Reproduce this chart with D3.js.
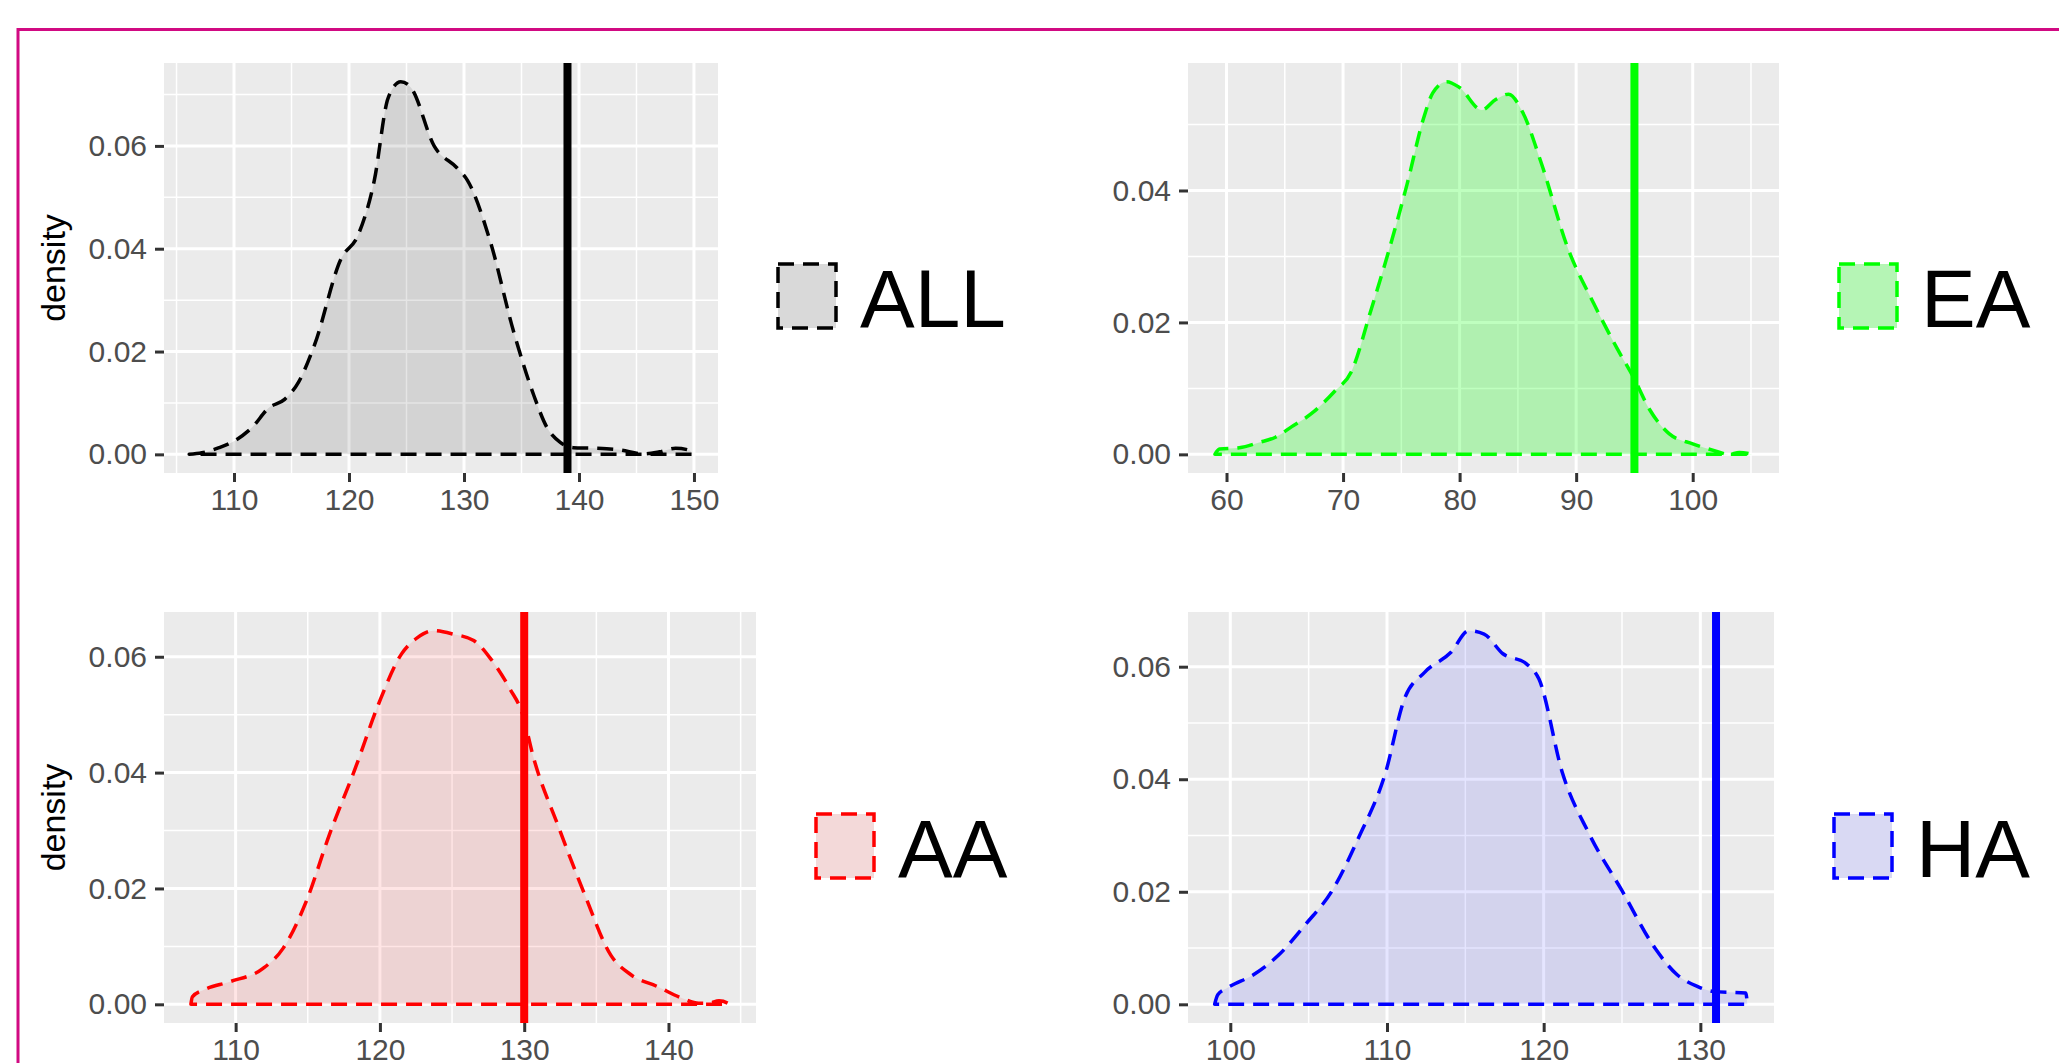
<!DOCTYPE html>
<html>
<head>
<meta charset="utf-8">
<script src="https://cdn.jsdelivr.net/npm/d3@7"></script>
<style>
  body { margin: 0; background: #fff; overflow: hidden; }
  svg { display: block; font-family: "Liberation Sans", Arial, sans-serif; }
</style>
</head>
<body>
<svg id="chart" width="2059" height="1063"></svg>
<script>
// groups, colours and the observed score marked with the vertical line
const groups = ['ALL', 'EA', 'AA', 'HA'];
const lineColors = ['#000000', '#00ff00', '#ff0000', '#0000ff'];
const fillAlpha = [0.1, 0.25, 0.1, 0.1];
const observed = [139, 95, 130, 131];

// density curves
const allScores = [106.1, 107.2, 108.7, 110.1, 111.6, 113.0, 114.4, 115.6, 117.0, 119.3, 120.8, 122.2, 123.4, 124.5, 125.4, 127.4, 129.4, 130.3, 132.3, 134.3, 136.1, 137.2, 138.4, 139.5, 141.2, 143.5, 145.6, 147.0, 148.4, 149.6, 149.9];
const allDensity = [0, 0.0003, 0.0013, 0.0027, 0.0053, 0.009, 0.0107, 0.014, 0.0213, 0.038, 0.0427, 0.0533, 0.0693, 0.0725, 0.0713, 0.06, 0.0557, 0.0533, 0.0413, 0.024, 0.0113, 0.0053, 0.0023, 0.0013, 0.0012, 0.0009, 0.0001, 0.0005, 0.0012, 0.0008, 0];

const eaScores = [59.0, 59.4, 61.1, 62.8, 64.2, 65.6, 67.3, 69.3, 70.7, 72.4, 73.8, 75.5, 76.9, 77.7, 78.9, 80.0, 81.9, 83.1, 84.2, 85.4, 87.0, 89.3, 91.5, 93.5, 95.0, 96.3, 98.0, 100.0, 102.0, 103.1, 104.0, 105.1];
const eaDensity = [0, 0.0008, 0.001, 0.0018, 0.0026, 0.0042, 0.0062, 0.0096, 0.0125, 0.0219, 0.0301, 0.041, 0.0509, 0.0548, 0.0565, 0.0556, 0.0522, 0.0538, 0.0546, 0.0519, 0.0442, 0.0312, 0.0229, 0.0161, 0.0114, 0.0068, 0.0031, 0.0016, 0.0005, 0, 0.0003, 0];

const aaScores = [106.9, 107.0, 107.8, 109.6, 111.9, 113.3, 114.9, 116.5, 118.3, 119.9, 121.5, 122.6, 123.7, 125.1, 126.5, 127.6, 129.0, 129.9, 130.6, 132.4, 134.2, 136.0, 137.4, 139.2, 141.0, 142.1, 142.8, 143.5, 144.1, 144.2];
const aaDensity = [0, 0.0013, 0.0025, 0.0039, 0.0062, 0.0097, 0.0178, 0.0293, 0.0408, 0.0518, 0.0605, 0.0633, 0.0645, 0.0639, 0.0628, 0.0599, 0.0545, 0.05, 0.043, 0.0305, 0.0189, 0.0085, 0.0051, 0.0031, 0.001, 0.0002, 0.0002, 0.0006, 0.0002, 0];

const haScores = [99.0, 99.2, 99.8, 101.5, 103.1, 104.8, 106.5, 108.2, 109.9, 111.1, 112.4, 114.1, 115.2, 116.2, 117.4, 118.9, 119.7, 121.2, 122.9, 125.0, 127.1, 128.5, 129.8, 130.8, 132.9, 133.0];
const haDensity = [0, 0.0017, 0.0029, 0.0053, 0.0088, 0.0142, 0.0202, 0.0297, 0.0411, 0.0542, 0.059, 0.0626, 0.0664, 0.0658, 0.0623, 0.0605, 0.0578, 0.0411, 0.0303, 0.0202, 0.01, 0.0053, 0.0032, 0.0023, 0.002, 0];

const scores = [allScores, eaScores, aaScores, haScores];
const densities = [allDensity, eaDensity, aaDensity, haDensity];

// axis breaks
const yBreaks = [0, 0.02, 0.04, 0.06];
const yFormat = d3.format('.2f');

// panel boxes (plot area of each small chart)
const panels = [
    { left: 164, right: 718, top: 63, bottom: 473, legendY: 296, title: true },
    { left: 1188, right: 1779, top: 63, bottom: 473, legendY: 296, title: false },
    { left: 164, right: 756, top: 612, bottom: 1023, legendY: 846, title: true },
    { left: 1188, right: 1774, top: 612, bottom: 1023, legendY: 846, title: false }
];

const svg = d3.select('#chart');

// magenta frame
svg.append('rect')
    .attr('x', 18).attr('y', 29.5)
    .attr('width', 2080).attr('height', 1100)
    .attr('fill', 'none')
    .attr('stroke', '#d10a82')
    .attr('stroke-width', 3);

// ggplot style expansion of 5% on each side
function expand(lo, hi) {
    const pad = (hi - lo) * 0.05;
    return [lo - pad, hi + pad];
}

groups.forEach(function(name, i) {
    const p = panels[i];
    const xs = scores[i];
    const ys = densities[i];
    const pts = xs.map((x, k) => [x, ys[k]]);

    const x = d3.scaleLinear()
        .domain(expand(d3.min(xs), d3.max(xs)))
        .range([p.left, p.right]);
    const y = d3.scaleLinear()
        .domain(expand(0, d3.max(ys)))
        .range([p.bottom, p.top]);

    const g = svg.append('g');

    // panel background
    g.append('rect')
        .attr('x', p.left).attr('y', p.top)
        .attr('width', p.right - p.left).attr('height', p.bottom - p.top)
        .attr('fill', '#ebebeb');

    const xd = x.domain(), yd = y.domain();
    const xMajor = d3.range(Math.ceil(xd[0] / 10) * 10, xd[1], 10);
    const xMinor = d3.range(Math.ceil((xd[0] - 5) / 10) * 10 + 5, xd[1], 10).filter(v => v > xd[0]);
    const yMajor = yBreaks.filter(v => v >= yd[0] && v <= yd[1]);
    const yMinor = d3.range(0.01, yd[1], 0.02);

    // minor grid
    g.selectAll('.xminor').data(xMinor).enter().append('line')
        .attr('x1', d => x(d)).attr('x2', d => x(d))
        .attr('y1', p.top).attr('y2', p.bottom)
        .attr('stroke', '#fff').attr('stroke-width', 1.5);
    g.selectAll('.yminor').data(yMinor).enter().append('line')
        .attr('x1', p.left).attr('x2', p.right)
        .attr('y1', d => y(d)).attr('y2', d => y(d))
        .attr('stroke', '#fff').attr('stroke-width', 1.5);

    // major grid
    g.selectAll('.xmajor').data(xMajor).enter().append('line')
        .attr('x1', d => x(d)).attr('x2', d => x(d))
        .attr('y1', p.top).attr('y2', p.bottom)
        .attr('stroke', '#fff').attr('stroke-width', 3);
    g.selectAll('.ymajor').data(yMajor).enter().append('line')
        .attr('x1', p.left).attr('x2', p.right)
        .attr('y1', d => y(d)).attr('y2', d => y(d))
        .attr('stroke', '#fff').attr('stroke-width', 3);

    // density area with dashed outline (baseline included)
    const area = d3.area()
        .x(d => x(d[0]))
        .y0(y(0))
        .y1(d => y(d[1]))
        .curve(d3.curveMonotoneX);

    g.append('path')
        .attr('d', area(pts))
        .attr('fill', lineColors[i])
        .attr('fill-opacity', fillAlpha[i])
        .attr('stroke', lineColors[i])
        .attr('stroke-width', 3.5)
        .attr('stroke-dasharray', '16 9')
        .attr('stroke-linejoin', 'round');

    // observed score
    g.append('line')
        .attr('x1', x(observed[i])).attr('x2', x(observed[i]))
        .attr('y1', p.top).attr('y2', p.bottom)
        .attr('stroke', lineColors[i])
        .attr('stroke-width', 8);

    // axes
    const yAxis = g.append('g')
        .attr('transform', `translate(${p.left},0)`)
        .call(d3.axisLeft(y).tickValues(yMajor).tickFormat(yFormat).tickSize(9).tickPadding(8));
    const xAxis = g.append('g')
        .attr('transform', `translate(0,${p.bottom})`)
        .call(d3.axisBottom(x).tickValues(xMajor).tickFormat(d3.format('d')).tickSize(9).tickPadding(7));

    [yAxis, xAxis].forEach(function(ax) {
        ax.select('.domain').remove();
        ax.selectAll('.tick line').attr('stroke', '#333333').attr('stroke-width', 3);
        ax.selectAll('.tick text')
            .attr('fill', '#4d4d4d')
            .style('font-size', '30px')
            .style('font-family', '"Liberation Sans", Arial, sans-serif');
    });

    if (p.title) {
        g.append('text')
            .attr('transform', `translate(65,${(p.top + p.bottom) / 2}) rotate(-90)`)
            .attr('text-anchor', 'middle')
            .style('font-size', '34px')
            .attr('fill', '#000')
            .text('density');
    }

    // legend
    const kx = p.right + 60;
    const ky = p.legendY - 32;
    g.append('rect')
        .attr('x', kx).attr('y', ky)
        .attr('width', 58).attr('height', 64)
        .attr('fill', '#f2f2f2');
    g.append('rect')
        .attr('x', kx).attr('y', ky)
        .attr('width', 58).attr('height', 64)
        .attr('fill', lineColors[i])
        .attr('fill-opacity', fillAlpha[i])
        .attr('stroke', lineColors[i])
        .attr('stroke-width', 3.5)
        .attr('stroke-dasharray', '16 9');
    g.append('text')
        .attr('x', kx + 82)
        .attr('y', p.legendY + 31)
        .style('font-size', '82px')
        .attr('fill', '#000')
        .text(name);
});
</script>
</body>
</html>
